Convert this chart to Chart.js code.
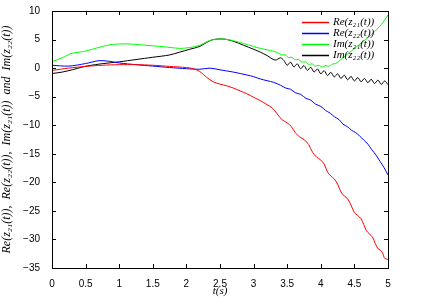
<!DOCTYPE html>
<html>
<head>
<meta charset="utf-8">
<script src="https://cdn.jsdelivr.net/npm/chart.js@4"></script>
<style>
  html, body { margin: 0; padding: 0; background: #fff; }
  #wrap { width: 427px; height: 298px; }
</style>
</head>
<body>
<div id="wrap"><canvas id="chart" width="427" height="298"></canvas></div>
<script>
// series labels
const labels = ['Re(z₂₁(t))', 'Re(z₂₂(t))', 'Im(z₂₁(t))', 'Im(z₂₂(t))'];
const colors = ['#ff0000', '#0000ff', '#00ff00', '#000000'];

// Re(z21)
const tRe21 = [0, 0.25, 0.5, 0.75, 1.0, 1.25, 1.5, 1.75, 2.0, 2.1, 2.2, 2.3, 2.4, 2.5, 2.6, 2.7, 2.8, 2.9, 3.0, 3.1, 3.2, 3.28,
  3.35, 3.42, 3.5, 3.56, 3.62, 3.68, 3.76, 3.82, 3.88, 3.94, 4.0, 4.05, 4.1, 4.15, 4.2, 4.25, 4.3, 4.35, 4.4, 4.45,
  4.5, 4.55, 4.6, 4.64, 4.68, 4.72, 4.77, 4.81, 4.85, 4.88, 4.92, 4.95, 5.0];
const re21 = [-0.4, 0, 0.3, 0.5, 0.6, 0.6, 0.5, 0.3, 0.1, -0.1, -0.6, -1.6, -2.4, -2.8, -3.1, -3.5, -4.0, -4.5, -5.1, -5.7, -6.4, -7.0,
  -8.0, -9.0, -9.6, -10.2, -11.3, -12.0, -12.6, -13.4, -14.8, -15.6, -16.1, -16.8, -18.2, -18.9, -19.4, -20.3, -21.7, -22.4, -22.9, -24.0,
  -25.3, -25.8, -26.4, -27.4, -28.5, -29.0, -29.6, -30.7, -31.6, -31.8, -32.4, -33.3, -33.5];

// Re(z22)
const tRe22 = [0, 0.25, 0.5, 0.7, 0.85, 1.0, 1.25, 1.5, 1.75, 2.0, 2.2, 2.35, 2.5, 2.7, 2.9, 3.0, 3.1, 3.2, 3.3, 3.4, 3.48,
  3.55, 3.62, 3.7, 3.78, 3.85, 3.92, 4.0, 4.07, 4.14, 4.2, 4.27, 4.33, 4.4, 4.46, 4.52, 4.58, 4.64, 4.7, 4.76, 4.82, 4.88, 4.94, 5.0];
const re22 = [0.5, 0.35, 0.8, 1.3, 1.2, 0.9, 0.6, 0.35, 0.1, -0.1, -0.2, 0, -0.3, -0.7, -1.2, -1.5, -1.9, -2.2, -2.5, -3.0, -3.5,
  -3.7, -4.3, -4.6, -5.3, -5.6, -6.3, -6.7, -7.4, -7.9, -8.5, -9.0, -9.8, -10.3, -10.9, -11.3, -11.9, -12.6, -13.3, -14.3, -15.2, -16.3, -17.4, -18.7];

// Im(z21)
const tIm21 = [0, 0.15, 0.3, 0.47, 0.6, 0.75, 0.9, 1.1, 1.3, 1.5, 1.7, 1.9, 2.05, 2.2, 2.3, 2.4, 2.55, 2.7, 2.85, 3.0, 3.1, 3.2, 3.3,
  3.37, 3.42, 3.47, 3.52, 3.57, 3.62, 3.67, 3.72, 3.77, 3.82, 3.87, 3.92, 3.97, 4.02, 4.07, 4.12, 4.17, 4.22,
  4.3, 4.4, 4.5, 4.6, 4.7, 4.8, 4.9, 5.0];
const im21 = [1.1, 1.8, 2.6, 2.9, 3.3, 3.8, 4.15, 4.25, 4.1, 3.9, 3.7, 3.45, 3.6, 4.0, 4.6, 5.0, 5.1, 4.8, 4.3, 3.8, 3.45, 3.2, 2.95,
  2.6, 2.3, 2.35, 1.85, 1.9, 1.45, 1.5, 1.05, 1.1, 0.65, 0.75, 0.35, 0.5, 0.2, 0.45, 0.3, 0.7, 0.8,
  1.5, 2.5, 3.4, 4.4, 5.3, 6.4, 7.6, 9.3];

// Im(z22)
const tIm22 = [0, 0.15, 0.3, 0.47, 0.7, 1.0, 1.25, 1.5, 1.75, 1.9, 2.05, 2.2, 2.3, 2.4, 2.55, 2.7, 2.85, 3.0, 3.1, 3.2, 3.32, 3.4,
  3.45, 3.5, 3.55, 3.6, 3.65, 3.7, 3.75, 3.8, 3.85, 3.9, 3.95, 4.0, 4.05, 4.1, 4.15, 4.2, 4.25, 4.3, 4.35, 4.4, 4.45,
  4.5, 4.55, 4.6, 4.65, 4.7, 4.75, 4.8, 4.85, 4.9, 4.95, 5.0];
const im22 = [-0.95, -0.7, -0.3, 0.25, 0.7, 1.1, 1.5, 1.9, 2.3, 2.8, 3.3, 3.8, 4.5, 5.0, 5.1, 4.7, 4.0, 3.3, 2.8, 2.2, 1.4, 1.8,
  1.35, 0.5, 1.05, 0.2, 0.75, -0.1, 0.45, -0.4, 0.15, -0.7, -0.15, -1.0, -0.45, -1.3, -0.75, -1.55, -1.0, -1.8, -1.25, -2.05, -1.45,
  -2.25, -1.65, -2.4, -1.8, -2.55, -1.95, -2.7, -2.1, -2.85, -2.25, -2.9];

const xTicks = [0, 0.5, 1, 1.5, 2, 2.5, 3, 3.5, 4, 4.5, 5];
const yTicks = [-35, -30, -25, -20, -15, -10, -5, 0, 5, 10];

function pts(ts, vs) {
  return ts.map((t, i) => ({ x: t, y: vs[i] }));
}

const seriesData = [pts(tRe21, re21), pts(tRe22, re22), pts(tIm21, im21), pts(tIm22, im22)];

// box, inward ticks and legend
const framePlugin = {
  id: 'frame',
  afterDatasetsDraw(chart) {
    const ctx = chart.ctx;
    const a = chart.chartArea;
    const xs = chart.scales.x, ys = chart.scales.y;
    ctx.save();
    ctx.strokeStyle = '#000';
    ctx.lineWidth = 1;
    ctx.strokeRect(Math.round(a.left) + 0.5, Math.round(a.top) + 0.5, Math.round(a.right - a.left), Math.round(a.bottom - a.top));
    ctx.beginPath();
    xTicks.forEach(v => {
      const px = Math.round(xs.getPixelForValue(v)) + 0.5;
      ctx.moveTo(px, a.bottom); ctx.lineTo(px, a.bottom - 4);
      ctx.moveTo(px, a.top); ctx.lineTo(px, a.top + 4);
    });
    yTicks.forEach(v => {
      const py = Math.round(ys.getPixelForValue(v)) + 0.5;
      ctx.moveTo(a.left, py); ctx.lineTo(a.left + 4, py);
      ctx.moveTo(a.right, py); ctx.lineTo(a.right - 4, py);
    });
    ctx.stroke();

    // legend
    ctx.font = 'italic 11px "Liberation Serif", "DejaVu Serif", serif';
    ctx.textBaseline = 'middle';
    chart.data.datasets.forEach((ds, i) => {
      const y = 22.5 + i * 11;
      ctx.strokeStyle = ds.borderColor;
      ctx.lineWidth = 1.5;
      ctx.beginPath();
      ctx.moveTo(302, y); ctx.lineTo(329, y);
      ctx.stroke();
      ctx.fillStyle = '#000';
      ctx.fillText(ds.label, 333, y);
    });
    ctx.restore();
  }
};

const ctx = document.getElementById('chart').getContext('2d');
new Chart(ctx, {
  type: 'line',
  data: {
    datasets: seriesData.map((d, i) => ({
      label: labels[i],
      data: d,
      borderColor: colors[i],
      borderWidth: 1,
      pointRadius: 0,
      tension: 0.3,
      fill: false
    }))
  },
  options: {
    responsive: false,
    animation: false,
    layout: { padding: { top: 11, right: 39, left: 0, bottom: 0 } },
    plugins: {
      legend: { display: false },
      tooltip: { enabled: false }
    },
    scales: {
      x: {
        type: 'linear',
        min: 0, max: 5,
        afterBuildTicks: s => { s.ticks = xTicks.map(v => ({ value: v })); },
        afterFit: s => { s.height = 30; },
        grid: { display: false },
        border: { display: false },
        ticks: {
          color: '#000',
          padding: 2,
          maxRotation: 0,
          font: { family: '"Liberation Sans", Arial, sans-serif', size: 10 },
          callback: v => String(v)
        },
        title: {
          display: true,
          text: 't(s)',
          color: '#000',
          padding: { top: -3, bottom: 0 },
          font: { family: '"Liberation Serif", "DejaVu Serif", serif', size: 11, style: 'italic' }
        }
      },
      y: {
        type: 'linear',
        min: -35, max: 10,
        afterBuildTicks: s => { s.ticks = yTicks.map(v => ({ value: v })); },
        afterFit: s => { s.width = 52; },
        grid: { display: false },
        border: { display: false },
        ticks: {
          color: '#000',
          padding: 4,
          font: { family: '"Liberation Sans", Arial, sans-serif', size: 10 },
          callback: v => String(v).replace('-', '−')
        },
        title: {
          display: true,
          text: 'Re(z₂₁(t)),  Re(z₂₂(t)),  Im(z₂₁(t))  and  Im(z₂₂(t))',
          color: '#000',
          padding: { top: 0, bottom: 4 },
          font: { family: '"Liberation Serif", "DejaVu Serif", serif', size: 12, style: 'italic' }
        }
      }
    }
  },
  plugins: [framePlugin]
});
</script>
</body>
</html>
